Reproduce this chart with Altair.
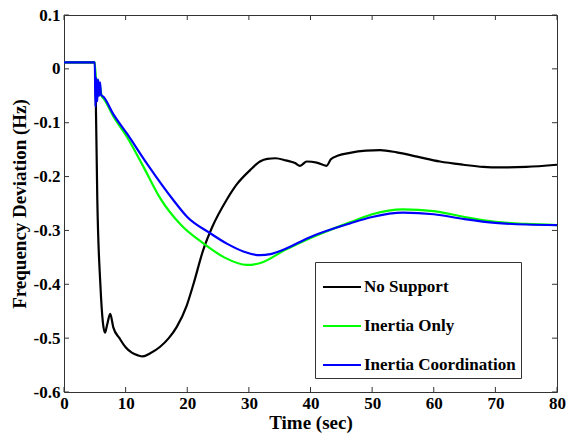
import altair as alt
import pandas as pd

series_names = ["No Support", "Inertia Only", "Inertia Coordination"]
series_colors = ["#000000", "#00ff00", "#0000ff"]

ns_t = [0, 5.0, 5.15, 5.4, 5.9, 6.3, 6.65, 7.0, 7.5, 8.0, 9.0, 10.0, 11.0, 12.0, 12.8, 14.0,
        15.6, 17.0, 18.3, 19.9, 21.0, 22.6, 24.0, 26.4, 28.0, 30.2, 31.8, 33.0, 34.3, 36.0,
        37.5, 38.3, 39.4, 41.0, 42.6, 43.3, 44.5, 46.4, 49.0, 51.3, 54.0, 57.3, 61.0, 64.8,
        68.0, 70.8, 75.0, 80.0]
ns_v = [0.012, 0.012, -0.05, -0.24, -0.40, -0.47, -0.49, -0.475, -0.455, -0.48, -0.50, -0.517,
        -0.527, -0.532, -0.534, -0.528, -0.516, -0.50, -0.479, -0.44, -0.40, -0.336, -0.295,
        -0.243, -0.215, -0.188, -0.172, -0.167, -0.166, -0.170, -0.175, -0.180, -0.172, -0.174,
        -0.180, -0.168, -0.161, -0.156, -0.152, -0.151, -0.155, -0.163, -0.172, -0.178, -0.182,
        -0.183, -0.182, -0.178]

io_t = [0, 5.0, 5.2, 5.4, 5.6, 5.8, 6.1, 6.5, 8.0, 10.2, 12.9, 15.6, 19.0, 22.6, 26.0, 29.7,
        32.0, 35.6, 40.0, 46.4, 50.0, 55.0, 60.0, 65.0, 70.0, 75.0, 80.0]
io_v = [0.012, 0.012, -0.03, -0.02, -0.05, -0.03, -0.05, -0.056, -0.088, -0.126, -0.182, -0.240,
        -0.290, -0.324, -0.350, -0.364, -0.360, -0.338, -0.314, -0.285, -0.270, -0.261, -0.264,
        -0.275, -0.284, -0.288, -0.290]

ic_t = [0, 5.0, 5.1, 5.25, 5.4, 5.55, 5.7, 5.85, 6.0, 6.4, 8.0, 10.2, 13.4, 17.7, 20.0, 23.7,
        26.5, 29.1, 31.8, 33.5, 35.6, 40.0, 46.4, 50.0, 55.0, 60.0, 65.0, 70.0, 75.0, 80.0]
ic_v = [0.012, 0.012, -0.07, -0.017, -0.06, -0.02, -0.05, -0.025, -0.048, -0.052, -0.084, -0.120,
        -0.175, -0.243, -0.275, -0.305, -0.325, -0.339, -0.346, -0.344, -0.336, -0.312, -0.287,
        -0.275, -0.267, -0.270, -0.279, -0.286, -0.289, -0.290]

x_ticks = [0, 10, 20, 30, 40, 50, 60, 70, 80]
y_ticks = [-0.6, -0.5, -0.4, -0.3, -0.2, -0.1, 0, 0.1]

rows = []
for name, ts, vs in zip(series_names, [ns_t, io_t, ic_t], [ns_v, io_v, ic_v]):
    for t, v in zip(ts, vs):
        rows.append({"series": name, "t": t, "v": v})
df = pd.DataFrame(rows)
xt = pd.DataFrame({"t": x_ticks})
yt = pd.DataFrame({"v": y_ticks})

FONT = "Liberation Serif"
W, H = 493, 377

xs = alt.Scale(domain=[0, 80], nice=False, zero=False)
ys = alt.Scale(domain=[-0.6, 0.1], nice=False, zero=False)
xaxis = alt.Axis(values=x_ticks, title="Time (sec)", domain=False, ticks=False, grid=False,
                 labelFont=FONT, labelFontSize=17, labelFontWeight="bold", labelColor="black",
                 labelPadding=3, titleFont=FONT, titleFontSize=19, titleFontWeight="bold",
                 titleColor="black", titlePadding=2, labelFlush=False)
yaxis = alt.Axis(values=y_ticks, title="Frequency Deviation (Hz)", domain=False, ticks=False,
                 grid=False, labelFont=FONT, labelFontSize=17, labelFontWeight="bold",
                 labelColor="black", labelPadding=4, titleFont=FONT, titleFontSize=19,
                 titleFontWeight="bold", titleColor="black", titlePadding=4, labelFlush=False,
                 labelExpr="datum.value == 0 ? '0' : (datum.value < 0 ? '-' : '') + format(abs(datum.value), '.1f')")
X = alt.X("t:Q", scale=xs, axis=xaxis)
Y = alt.Y("v:Q", scale=ys, axis=yaxis)

color = alt.Color("series:N", scale=alt.Scale(domain=series_names, range=series_colors),
                  legend=alt.Legend(orient="none", legendX=251, legendY=247, title=None,
                                    strokeColor="#333", fillColor="white", padding=5,
                                    symbolType="stroke", symbolSize=1444, symbolStrokeWidth=2,
                                    symbolOffset=2, labelOffset=2, rowPadding=11, labelLimit=400,
                                    labelFont=FONT, labelFontSize=17, labelFontWeight="bold",
                                    labelColor="black"))

layers = []
for name in series_names:
    layers.append(
        alt.Chart(df[df.series == name]).mark_line(strokeWidth=2.2, interpolate="monotone").encode(
            x=X, y=Y, color=color
        )
    )

tick_col = "#333"
bt = alt.Chart(xt).mark_rule(color=tick_col).encode(x=X, y=alt.value(H), y2=alt.value(H - 5))
tt = alt.Chart(xt).mark_rule(color=tick_col).encode(x=X, y=alt.value(0), y2=alt.value(5))
lt = alt.Chart(yt).mark_rule(color=tick_col).encode(y=Y, x=alt.value(0), x2=alt.value(5))
rt = alt.Chart(yt).mark_rule(color=tick_col).encode(y=Y, x=alt.value(W), x2=alt.value(W - 5))

chart = alt.layer(bt, tt, lt, rt, *layers).properties(
    width=W, height=H,
    autosize=alt.AutoSizeParams(type="none"),
    padding={"left": 64, "top": 15, "right": 9, "bottom": 45},
    background="white",
).configure_view(stroke="#333", strokeWidth=1)

chart.save("out.html", embed_options={"renderer": "svg", "actions": False})
